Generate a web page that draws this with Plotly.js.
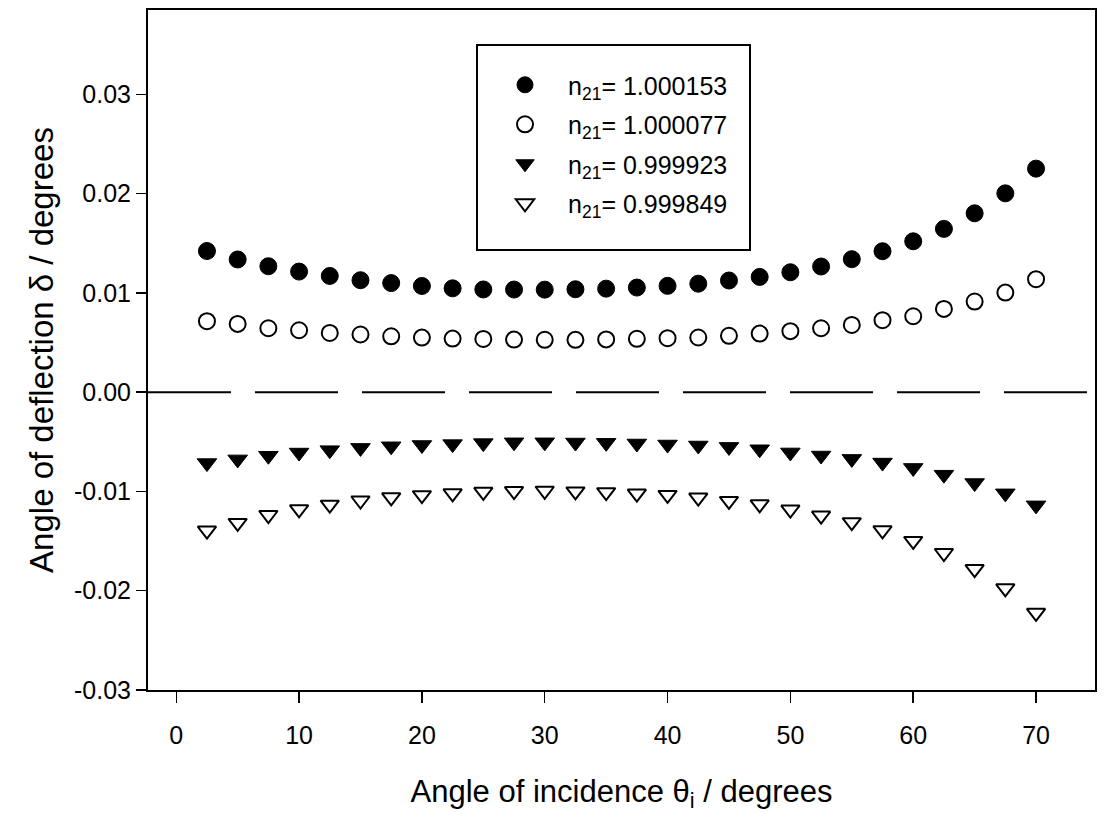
<!DOCTYPE html>
<html>
<head>
<meta charset="utf-8">
<script src="https://cdn.plot.ly/plotly-3.0.1.min.js"></script>
<style>
  html, body { margin: 0; padding: 0; background: #ffffff; }
  #chart { width: 1116px; height: 823px; }
</style>
</head>
<body>
<div id="chart"></div>
<script>
// Angle of incidence (degrees)
const theta = [2.5, 5, 7.5, 10, 12.5, 15, 17.5, 20, 22.5, 25, 27.5, 30, 32.5, 35,
               37.5, 40, 42.5, 45, 47.5, 50, 52.5, 55, 57.5, 60, 62.5, 65, 67.5, 70];

// Angle of deflection (degrees) for each relative index n21
const delta_1000153 = [0.01422, 0.01337, 0.01269, 0.01215, 0.01171, 0.01128, 0.01099, 0.01070,
                       0.01046, 0.01035, 0.01034, 0.01033, 0.01037, 0.01043, 0.01054, 0.01071,
                       0.01093, 0.01125, 0.01161, 0.01208, 0.01266, 0.01340, 0.01420, 0.01520,
                       0.01645, 0.01802, 0.02003, 0.02252];
const delta_1000077 = [0.00715, 0.00688, 0.00644, 0.00624, 0.00597, 0.00581, 0.00563, 0.00550,
                       0.00540, 0.00536, 0.00530, 0.00528, 0.00527, 0.00532, 0.00538, 0.00544,
                       0.00551, 0.00568, 0.00590, 0.00615, 0.00644, 0.00677, 0.00725, 0.00765,
                       0.00839, 0.00913, 0.01003, 0.01138];
const delta_0999923 = [-0.00714, -0.00677, -0.00640, -0.00608, -0.00584, -0.00561, -0.00545, -0.00532,
                       -0.00523, -0.00513, -0.00505, -0.00505, -0.00507, -0.00510, -0.00517, -0.00527,
                       -0.00537, -0.00551, -0.00575, -0.00607, -0.00638, -0.00672, -0.00709, -0.00763,
                       -0.00831, -0.00915, -0.01019, -0.01140];
const delta_0999849 = [-0.01394, -0.01317, -0.01237, -0.01180, -0.01133, -0.01091, -0.01059, -0.01038,
                       -0.01019, -0.01004, -0.00996, -0.00993, -0.01000, -0.01007, -0.01021, -0.01035,
                       -0.01061, -0.01095, -0.01129, -0.01182, -0.01243, -0.01310, -0.01391, -0.01498,
                       -0.01620, -0.01782, -0.01976, -0.02222];

const seriesNames = ["n<sub>21</sub>= 1.000153", "n<sub>21</sub>= 1.000077",
                     "n<sub>21</sub>= 0.999923", "n<sub>21</sub>= 0.999849"];

const xTickVals = [0, 10, 20, 30, 40, 50, 60, 70];
const xTickText = ["0", "10", "20", "30", "40", "50", "60", "70"];
const yTickVals = [-0.03, -0.02, -0.01, 0.00, 0.01, 0.02, 0.03];
const yTickText = ["-0.03", "-0.02", "-0.01", "0.00", "0.01", "0.02", "0.03"];

const zeroLineX = [-2.3, 74.8];
const zeroLineY = [0, 0];

const FONT = "Liberation Sans, Arial, Helvetica, sans-serif";

const traces = [
  {
    x: zeroLineX, y: zeroLineY, mode: "lines", showlegend: false, hoverinfo: "skip",
    line: { color: "#000", width: 2, dash: "83px,24px" }
  },
  {
    x: theta, y: delta_1000153, mode: "markers", name: seriesNames[0], legendgroup: "a",
    marker: { symbol: "circle", size: 17, color: "#000", line: { color: "#000", width: 1 } }
  },
  {
    x: theta, y: delta_1000077, mode: "markers", name: seriesNames[1], legendgroup: "b",
    marker: { symbol: "circle", size: 16, color: "#fff", line: { color: "#000", width: 2 } }
  },
  {
    x: theta, y: delta_0999923, mode: "markers", name: seriesNames[2], legendgroup: "c",
    marker: { symbol: "triangle-down", size: 17, color: "#000", line: { color: "#000", width: 1 } }
  },
  {
    x: theta, y: delta_0999849, mode: "markers", name: seriesNames[3], legendgroup: "d",
    marker: { symbol: "triangle-down", size: 16, color: "#fff", line: { color: "#000", width: 2 } }
  }
];

const layout = {
  width: 1116, height: 823,
  paper_bgcolor: "#fff", plot_bgcolor: "#fff",
  margin: { l: 148, r: 21, t: 10, b: 133 },
  font: { family: FONT, color: "#000", size: 22 },
  showlegend: true,
  legend: {
    x: 0.3527, y: 0.9235, xanchor: "left", yanchor: "top",
    bgcolor: "rgba(0,0,0,0)", borderwidth: 0,
    font: { family: FONT, size: 25, color: "#000" },
    tracegroupgap: 4, itemwidth: 76
  },
  shapes: [
    { type: "rect", xref: "paper", yref: "paper", x0: 0.3474, x1: 0.6357, y0: 0.647, y1: 0.9485,
      line: { color: "#000", width: 2 }, fillcolor: "rgba(0,0,0,0)" }
  ],
  xaxis: {
    range: [-2.3, 74.8], tickmode: "array", tickvals: xTickVals, ticktext: xTickText,
    ticks: "outside", ticklen: 11, tickwidth: 1.5, tickcolor: "#000",
    showline: true, linewidth: 2, linecolor: "#000", mirror: true,
    showgrid: false, zeroline: false,
    tickfont: { family: FONT, size: 25 }, ticklabelstandoff: 11,
    title: { text: "Angle of incidence θ<sub>i</sub> / degrees", font: { family: FONT, size: 31 }, standoff: 32 }
  },
  yaxis: {
    range: [-0.03, 0.0385], tickmode: "array", tickvals: yTickVals, ticktext: yTickText,
    ticks: "outside", ticklen: 10, tickwidth: 1.5, tickcolor: "#000",
    showline: true, linewidth: 2, linecolor: "#000", mirror: true,
    showgrid: false, zeroline: false,
    tickfont: { family: FONT, size: 25 }, ticklabelstandoff: 0,
    title: { text: "Angle of deflection δ / degrees", font: { family: FONT, size: 33 }, standoff: 10 }
  }
};

Plotly.newPlot("chart", traces, layout, { displayModeBar: false, staticPlot: true });
</script>
</body>
</html>
